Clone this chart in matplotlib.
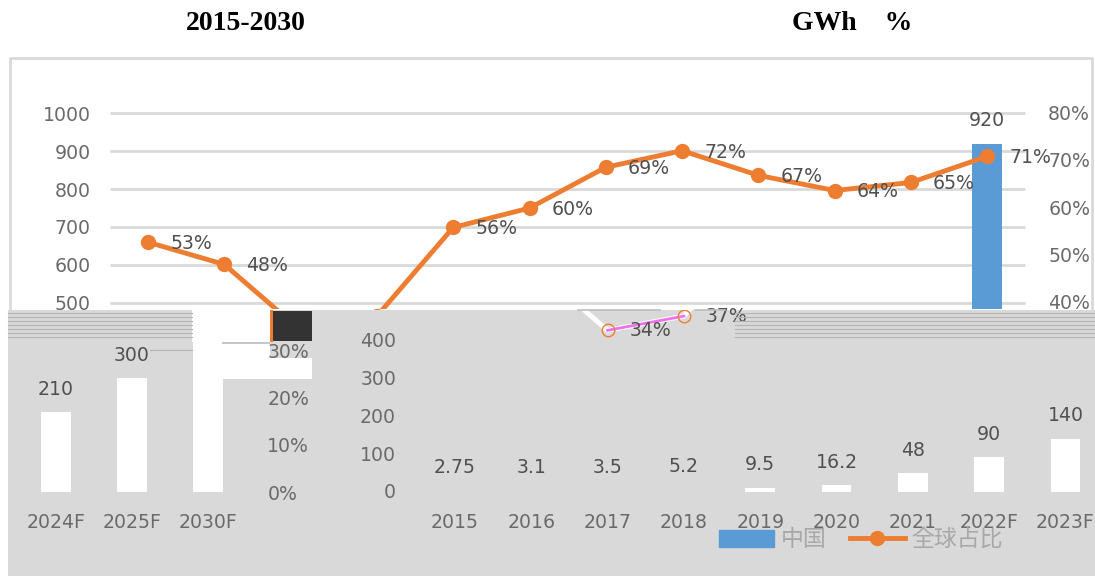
import matplotlib
matplotlib.use('Agg')
import matplotlib.pyplot as plt
from matplotlib.patches import Rectangle
from matplotlib.lines import Line2D

plt.rcParams['font.family'] = ['DejaVu Sans', 'Noto Sans CJK SC']

years = ['2015', '2016', '2017', '2018', '2019', '2020', '2021', '2022F', '2023F', '2024F', '2025F', '2030F']
china = [2.75, 3.1, 3.5, 5.2, 9.5, 16.2, 48, 90, 140, 210, 300, 920]
share = [52.6, 47.9, 34, 37, 55.7, 59.8, 68.4, 71.9, 66.7, 63.5, 65.2, 70.7]
share_labels = ['53%', '48%', '34%', '37%', '56%', '60%', '69%', '72%', '67%', '64%', '65%', '71%']
left_ticks_top = [500, 600, 700, 800, 900, 1000]
left_ticks_low = [0, 100, 200, 300, 400]
right_ticks_top = [40, 50, 60, 70, 80]
right_ticks_low = [0, 10, 20, 30]

W, H = 1095, 576
BLUE = '#5B9BD5'
ORANGE = '#ED7D31'
GRID = '#D9D9D9'
STRIPE = '#B4B4B4'
TICK = '#6A6A6A'
LABEL = '#505050'
FS = 13.6
STEP = 76.3    # px between categories
X0 = 148       # px of the first category
Y0 = 491.5     # px of the value 0
SHIFT = 307    # the lower band is moved sideways by this
WRAP = 1086 / STEP   # and what falls off the right comes back on the left

fig = plt.figure(figsize=(W / 100, H / 100), dpi=100)


def px_axes(left, right, top, bottom, shift=0):
    ax = fig.add_axes([left / W, 1 - bottom / H, (right - left) / W, (bottom - top) / H])
    ax.set_xlim((left - X0 - shift) / STEP, (right - X0 - shift) / STEP)
    ax.set_ylim((Y0 - bottom) / 0.378, (Y0 - top) / 0.378)
    return ax


def pct_twin(ax):
    tw = ax.twinx()
    lo, hi = ax.get_ylim()
    tw.set_ylim(lo * 0.378 / 4.74, hi * 0.378 / 4.74)
    tw.axis('off')
    return tw


def px_hline(x0, x1, y, color=STRIPE, lw=0.8, z=5):
    fig.add_artist(Line2D([x0 / W, x1 / W], [1 - y / H] * 2, transform=fig.transFigure,
                          color=color, lw=lw, zorder=z))


def px_block(ax, x0, y0, x1, y1, color):
    ax.add_patch(Rectangle((x0 / W, 1 - y1 / H), (x1 - x0) / W, (y1 - y0) / H,
                           transform=fig.transFigure, color=color, lw=0, zorder=3))


# upper band, drawn where the categories really are
top = px_axes(110, 1026, 104, 309)
top.patch.set_alpha(0)
for s in top.spines.values():
    s.set_visible(False)
top.hlines(left_ticks_top, -0.5, 11.5, color=GRID, lw=2, zorder=1)
top.bar(range(12), china, width=0.39, color=BLUE, zorder=2)
top.annotate('920', (11, china[-1]), xytext=(0, 16.5), textcoords='offset points',
             ha='center', va='center', fontsize=FS, color=LABEL)
top.set_xticks([])
top.set_yticks(left_ticks_top)
top.tick_params(axis='y', length=0, pad=14, labelsize=FS, labelcolor=TICK)

top2 = pct_twin(top)
top2.axis('on')
for s in top2.spines.values():
    s.set_visible(False)
top2.set_xticks([])
top2.set_yticks(right_ticks_top)
top2.set_yticklabels([f'{v}%' for v in right_ticks_top])
top2.tick_params(axis='y', length=0, pad=16, labelsize=FS, labelcolor=TICK)
top2.plot(range(12), share, color=ORANGE, lw=3.5, marker='o', ms=10)
for i, v in enumerate(share):
    if i not in (2, 3):
        top2.annotate(share_labels[i], (i, v), xytext=(31, -1), textcoords='offset points',
                      ha='center', va='center', fontsize=FS, color=LABEL)

# grey frame around the chart
fig.add_artist(Line2D([9.5 / W, 9.5 / W, 1092 / W, 1092 / W],
                      [1 - 309 / H, 1 - 58 / H, 1 - 58 / H, 1 - 309 / H],
                      transform=fig.transFigure, color=GRID, lw=2))

# title, the chinese part of it is lost in the reference
fig.text(246 / W, 1 - 23.5 / H, '2015-2030', ha='center', va='center', fontsize=20,
         fontweight='bold', family='Liberation Serif', color='black')
fig.text(852 / W, 1 - 23.5 / H, 'GWh    %', ha='center', va='center', fontsize=20,
         fontweight='bold', family='Liberation Serif', color='black')

# lower band, grey and wrapped around
low = px_axes(8, W, 310, H, shift=SHIFT)
low.set_zorder(3)
low.set_facecolor(GRID)
for s in low.spines.values():
    s.set_visible(False)
low.set_xticks([])
low.set_yticks([])
pos = [i if i < 9 else i - WRAP for i in range(12)]
# the smallest bars do not show up in the reference
bar_colors = ['white' if v > 6 else GRID for v in china]
low.bar(pos, china, width=0.39, color=bar_colors, zorder=2)
for p, v, y in zip(pos, china, years):
    low.annotate(f'{v:g}', (p, v), xytext=(0, 16.5), textcoords='offset points',
                 ha='center', va='center', fontsize=FS, color=LABEL, zorder=6)
    low.annotate(y, (p, 0), xytext=(0, -22.5), textcoords='offset points',
                 ha='center', va='center', fontsize=FS, color=TICK, zorder=6)
for v in left_ticks_low:
    low.annotate(str(v), (-0.5, v), xytext=(-15, -1), textcoords='offset points',
                 ha='right', va='center', fontsize=FS, color=TICK, zorder=6)

low2 = pct_twin(low)
low2.set_zorder(4)
for v in right_ticks_low:
    low2.annotate(f'{v}%', (11.5 - WRAP, v), xytext=(15, -2), textcoords='offset points',
                  ha='left', va='center', fontsize=FS, color=TICK, zorder=6)
low2.plot(range(1, 5), share[1:5], color='white', lw=3.5, zorder=2)
low2.plot(range(2, 4), share[2:4], color='#F070F0', lw=2, zorder=3)
low2.plot(range(2, 4), share[2:4], ls='', marker='o', ms=9, mfc='none', mec=ORANGE, mew=1, zorder=4)
for i in (2, 3):
    low2.annotate(share_labels[i], (i, share[i]), xytext=(31, 0), textcoords='offset points',
                  ha='center', va='center', fontsize=FS, color=LABEL, zorder=6)

# torn stripes and blocks of the broken picture
for y in range(313, 340, 4):
    px_hline(8, 192, y)
    px_hline(735, W, y)
for y in (325, 329, 333, 337):
    px_hline(660, 735, y, z=2)
for y in (317, 321):
    px_hline(596, 640, y, z=2)
px_hline(150, 192, 350)
px_hline(578, 660, 309.5, color='#BDBDBD', lw=1.2)
px_hline(695, 725, 309.5, color='#BDBDBD', lw=1.2)
px_block(low, 192, 310, 270, 342, 'white')
px_block(low, 222, 344, 270, 379, 'white')
px_block(low, 270, 358, 312, 379, 'white')
px_block(low, 222, 342, 270, 344, '#C8C8C8')
px_block(low, 273, 311, 312, 341, '#333333')
px_block(low, 270, 310, 273, 342, ORANGE)

# legend, the text is washed out in the reference
handles = [Rectangle((0, 0), 1, 1, color=BLUE),
           Line2D([], [], color=ORANGE, lw=3.5, marker='o', ms=10)]
leg = low2.legend(handles, ['中国', '全球占比'], ncol=2, frameon=False, fontsize=16.5,
                  labelcolor='#A8A8A8', loc='center', bbox_to_anchor=(861 / W, 1 - 540 / H),
                  bbox_transform=fig.transFigure, handlelength=2.4, columnspacing=1.0,
                  handletextpad=0.3, borderpad=0)

fig.savefig('out.png', dpi=100)
